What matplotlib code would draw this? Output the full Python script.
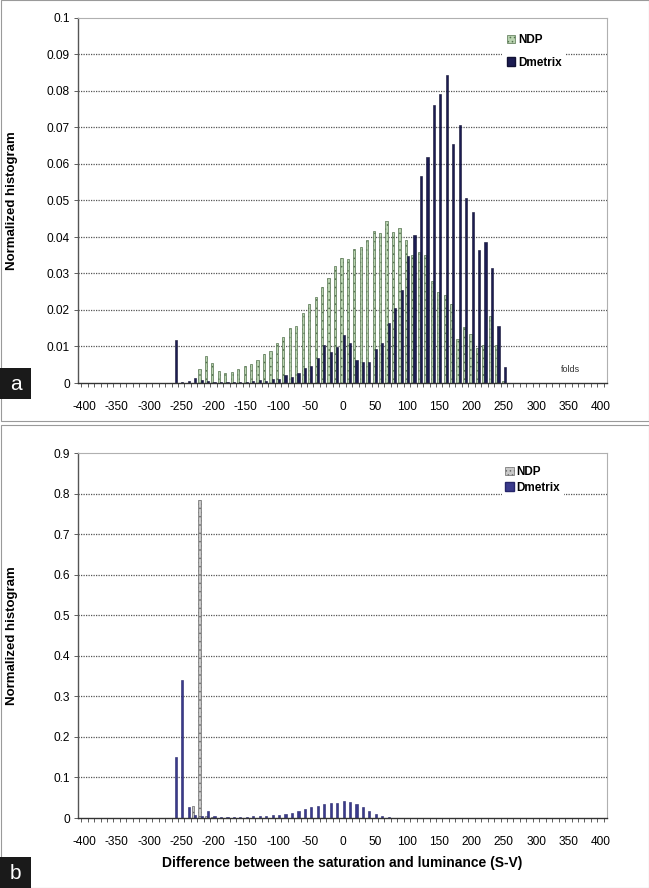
import matplotlib
matplotlib.use("Agg")
import matplotlib.pyplot as plt
import numpy as np
from matplotlib.patches import Patch, Rectangle

plt.rcParams['font.family'] = ['Liberation Sans', 'DejaVu Sans']
plt.rcParams['hatch.linewidth'] = 0.6

# --- Data: normalized histograms of S-V, 10-unit bins ---------------------
bins = list(range(-400, 401, 10))

ndp_a = [0] * 18 + [
    0.0038, 0.0075, 0.0056, 0.0034, 0.0027, 0.0031, 0.0038, 0.0047, 0.0051, 0.0063,
    0.0079, 0.0089, 0.0109, 0.0127, 0.0152, 0.0156, 0.0191, 0.0216, 0.0236, 0.0264,
    0.0289, 0.0321, 0.0342, 0.0340, 0.0366, 0.0373, 0.0392, 0.0416, 0.0410, 0.0445,
    0.0415, 0.0425, 0.0392, 0.0350, 0.0360, 0.0350, 0.0280, 0.0250, 0.0240, 0.0217,
    0.0120, 0.0153, 0.0133, 0.0095, 0.0105, 0.0184, 0.0105, 0.0005,
] + [0] * 15

dmetrix_a = [0] * 14 + [
    0.0118, 0.0004, 0.0006, 0.0013, 0.0008, 0.0005, 0.0003, 0.0002, 0.0002, 0.0003,
    0.0003, 0.0004, 0.0005, 0.0007, 0.0006, 0.0010, 0.0012, 0.0021, 0.0016, 0.0028,
    0.0042, 0.0047, 0.0069, 0.0104, 0.0084, 0.0099, 0.0131, 0.0110, 0.0063, 0.0058,
    0.0058, 0.0093, 0.0109, 0.0165, 0.0206, 0.0256, 0.0348, 0.0405, 0.0568, 0.0620,
    0.0763, 0.0793, 0.0844, 0.0654, 0.0707, 0.0508, 0.0469, 0.0364, 0.0385, 0.0314,
    0.0156, 0.0045,
] + [0] * 15

ndp_b = [0] * 17 + [0.030, 0.785, 0.004, 0.002, 0.001] + [0] * 59

dmetrix_b = [0] * 14 + [
    0.150, 0.340, 0.026, 0.008, 0.005, 0.018, 0.006, 0.002, 0.002, 0.002,
    0.003, 0.003, 0.004, 0.005, 0.006, 0.007, 0.008, 0.010, 0.012, 0.018,
    0.021, 0.026, 0.030, 0.034, 0.037, 0.038, 0.041, 0.039, 0.034, 0.026,
    0.018, 0.010, 0.005, 0.002, 0.001,
] + [0] * 32

xticks = list(range(-400, 401, 50))
yticks_a = [0, 0.01, 0.02, 0.03, 0.04, 0.05, 0.06, 0.07, 0.08, 0.09, 0.1]
yticks_b = [0, 0.1, 0.2, 0.3, 0.4, 0.5, 0.6, 0.7, 0.8, 0.9]

# --- Figure ------------------------------------------------------------------
fig = plt.figure(figsize=(6.49, 8.88), dpi=100)
W, H = 649, 888

# light panel frames
for y0, y1 in [(0, 421), (425, 888)]:
    fig.patches.append(Rectangle((0.5 / W, 1 - y1 / H), (W - 1) / W, (y1 - y0) / H,
                                 transform=fig.transFigure, fill=False,
                                 edgecolor="#9a9a9a", linewidth=0.8))

ax_a = fig.add_axes([78 / W, 1 - 383 / H, 529 / W, 365 / H])
ax_b = fig.add_axes([78 / W, 1 - 818 / H, 529 / W, 365 / H])

x = np.array(bins, dtype=float)
bw = 3.4
ndp_green = dict(facecolor="#b9d3b0", edgecolor="#55734f", hatch="....", linewidth=0.5)
ndp_grey = dict(facecolor="#c8c8c8", edgecolor="#6a6a6a", hatch="....", linewidth=0.5)


def style(ax, yticks, ylabels):
    ax.set_xlim(-410, 410)
    ax.set_ylim(0, yticks[-1])
    ax.set_yticks(yticks)
    ax.set_yticklabels(ylabels, fontsize=8.6)
    ax.set_xticks(xticks)
    ax.set_xticklabels([str(t) for t in xticks], fontsize=8.6)
    ax.set_xticks(np.arange(-405, 406, 10), minor=True)
    ax.tick_params(axis="x", which="major", length=0, pad=13)
    ax.tick_params(axis="x", which="minor", length=3, width=0.6, color="#444444", direction="out")
    ax.tick_params(axis="y", length=3, width=0.6, color="#444444", pad=3)
    for t in yticks[1:-1]:
        ax.axhline(t, color="#555555", linewidth=0.9, linestyle=(0, (1, 1)), zorder=0)
    for s in ["top", "right"]:
        ax.spines[s].set_color("#b0b0b0")
        ax.spines[s].set_linewidth(0.8)
    ax.spines["left"].set_color("#555555")
    ax.spines["bottom"].set_color("#333333")
    ax.spines["left"].set_linewidth(1.0)
    ax.spines["bottom"].set_linewidth(1.0)
    ax.set_ylabel("Normalized histogram", fontsize=9.5, fontweight="bold")
    ax.yaxis.set_label_coords(-0.113, 0.5)


# panel a
ax_a.bar(x - bw / 2, ndp_a, width=bw, zorder=2, **ndp_green)
ax_a.bar(x + bw / 2, dmetrix_a, width=bw, color="#1c1c52", edgecolor="#111133",
         linewidth=0.4, zorder=2)
style(ax_a, yticks_a, ["0", "0.01", "0.02", "0.03", "0.04", "0.05", "0.06",
                       "0.07", "0.08", "0.09", "0.1"])
ax_a.text(354, 0.0025, "folds", fontsize=6.5, color="#333333", ha="center", va="bottom")
leg_a = ax_a.legend(handles=[Patch(label="NDP", **ndp_green),
                             Patch(label="Dmetrix", facecolor="#1c1c52", edgecolor="#111133")],
                    loc="upper left", bbox_to_anchor=(0.79, 0.985), frameon=True,
                    prop={"weight": "bold", "size": 8.5}, handlelength=0.7, handleheight=0.7,
                    handletextpad=0.25, labelspacing=0.9, borderpad=0.4)
leg_a.get_frame().set_edgecolor("none")
leg_a.get_frame().set_facecolor("white")
leg_a.get_frame().set_alpha(1)

# panel b
ax_b.bar(x - bw / 2, ndp_b, width=bw, zorder=2, **ndp_grey)
ax_b.bar(x + bw / 2, dmetrix_b, width=bw, color="#3a3a8c", edgecolor="#26266a",
         linewidth=0.4, zorder=2)
style(ax_b, yticks_b, ["0", "0.1", "0.2", "0.3", "0.4", "0.5", "0.6", "0.7", "0.8", "0.9"])
ax_b.set_xlabel("Difference between the saturation and luminance (S-V)",
                fontsize=10, fontweight="bold", labelpad=6)
leg_b = ax_b.legend(handles=[Patch(label="NDP", **ndp_grey),
                             Patch(label="Dmetrix", facecolor="#3a3a8c", edgecolor="#26266a")],
                    loc="upper left", bbox_to_anchor=(0.79, 0.99), frameon=True,
                    prop={"weight": "bold", "size": 8.5}, handlelength=0.7, handleheight=0.7,
                    handletextpad=0.25, labelspacing=0.3, borderpad=0.3)
leg_b.get_frame().set_edgecolor("none")
leg_b.get_frame().set_facecolor("white")
leg_b.get_frame().set_alpha(1)

# panel letters
for letter, ytop in [("a", 368), ("b", 857)]:
    fig.patches.append(Rectangle((0, 1 - (ytop + 31) / H), 31 / W, 31 / H,
                                 transform=fig.transFigure, facecolor="#1a1a1a",
                                 edgecolor="none", zorder=5))
    fig.text(15.5 / W, 1 - (ytop + 16) / H, letter, color="white", fontsize=15,
             ha="center", va="center", zorder=6)

fig.savefig("out.png", dpi=100)
